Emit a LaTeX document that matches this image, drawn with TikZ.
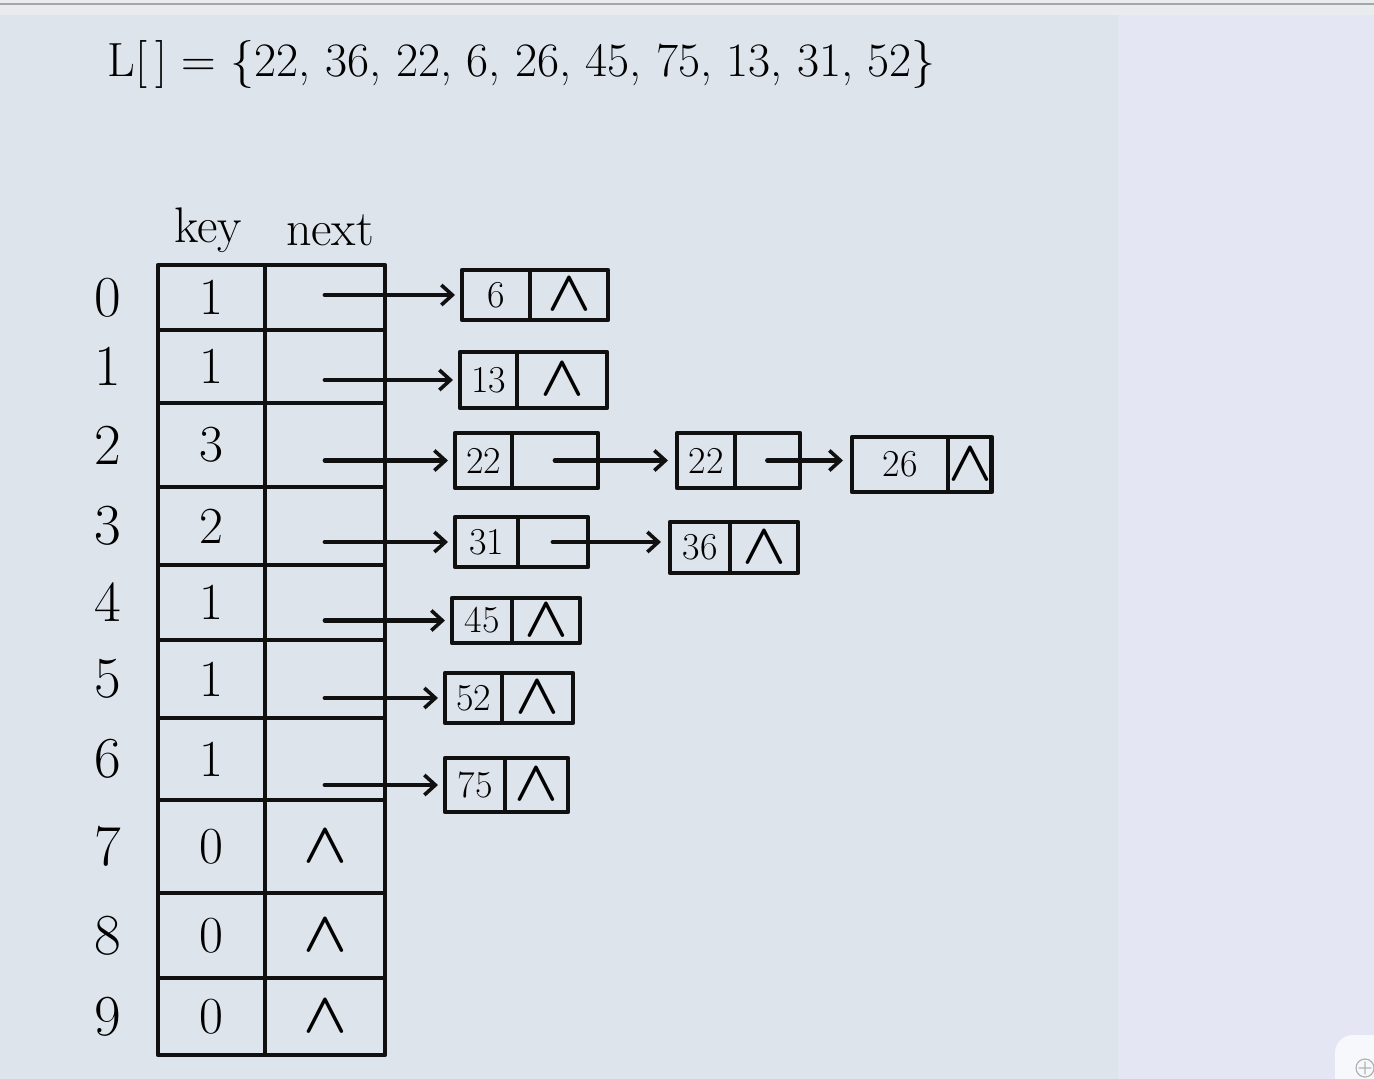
\documentclass[tikz,border=0pt]{standalone}
\usepackage{graphicx}
\usepackage{amsmath}
\usetikzlibrary{arrows.meta}
\definecolor{paper}{HTML}{DEE4EB}
\definecolor{panel}{HTML}{E4E6F4}
\definecolor{strip}{HTML}{E8ECEF}
\definecolor{ink}{HTML}{101010}
\newcommand\nul{\scalebox{2.3}{$\boldsymbol{\wedge}$}}
\newcommand\trow[6]{% idx, ytop, height, key, next, label
  \node[kcell, minimum height=#3pt, anchor=north west] (k#1) at (158,#2) {#4};
  \node[ncell, minimum height=#3pt, anchor=north west] (n#1) at (265,#2) {#5};
  \node[idx] (i#1) at (108,{#2+#3/2}) {#6};}
\newcommand\lnode[8]{% name, x, ytop, w1, w2, h, val, ptr
  \node[lcell, minimum width=#4pt, minimum height=#6pt, anchor=north west] (#1v) at (#2,#3) {#7};
  \node[lcell, minimum width=#5pt, minimum height=#6pt, anchor=west] (#1p) at (#1v.east) {#8};}
\begin{document}
\begin{tikzpicture}[x=1pt,y=-1pt, line width=4.8pt, line cap=round, line join=round, draw=ink,
  kcell/.style={draw, minimum width=107pt, inner sep=0pt, outer sep=0pt, font=\fontsize{52}{58}\selectfont},
  ncell/.style={draw, minimum width=120pt, inner sep=0pt, outer sep=0pt, font=\fontsize{52}{58}\selectfont},
  idx/.style={inner sep=0pt, font=\fontsize{58}{64}\selectfont},
  lcell/.style={draw, inner sep=0pt, outer sep=0pt, font=\fontsize{38}{44}\selectfont},
  ptr/.style={-{Straight Barb[length=11pt,width=20pt,line width=3.6pt]}}]
\useasboundingbox (0,0) rectangle (1374,1079);
\begin{scope}
\clip (0,0) rectangle (1374,1079);
\fill[paper] (0,0) rectangle (1374,1079);
\fill[panel] (1118,15) rectangle (1374,1079);
\fill[strip] (0,0) rectangle (1374,15);
\draw[line width=1.5pt, gray!70] (0,4) -- (1374,4);
\fill[white!70!panel, rounded corners=18pt] (1335,1035) rectangle (1400,1110);
\draw[line width=1.2pt, gray!60] (1365,1068) circle (9) (1359,1068) -- (1371,1068) (1365,1062) -- (1365,1074);
\end{scope}

\node[anchor=west, font=\fontsize{48}{54}\selectfont] (title) at (102,64)
  {L[\,] = \{22, 36, 22, 6, 26, 45, 75, 13, 31, 52\}};

\node[font=\fontsize{50}{56}\selectfont] (hkey) at (208,230) {key};
\node[font=\fontsize{50}{56}\selectfont] (hnext) at (330,230) {next};

\trow{0}{265}{65}{1}{}{0}
\trow{1}{330}{73}{1}{}{1}
\trow{2}{403}{84}{3}{}{2}
\trow{3}{487}{78}{2}{}{3}
\trow{4}{565}{75}{1}{}{4}
\trow{5}{640}{78}{1}{}{5}
\trow{6}{718}{82}{1}{}{6}
\trow{7}{800}{93}{0}{\nul}{7}
\trow{8}{893}{85}{0}{\nul}{8}
\trow{9}{978}{77}{0}{\nul}{9}

\lnode{a}{462}{270}{68}{78}{50}{6}{\nul}
\lnode{b}{460}{352}{57}{90}{56}{13}{\nul}
\lnode{c}{455}{433}{57}{86}{55}{22}{}
\lnode{d}{677}{433}{58}{65}{55}{22}{}
\lnode{e}{852}{437}{96}{40}{55}{26}{\nul}
\lnode{f}{455}{517}{63}{70}{50}{31}{}
\lnode{g}{670}{522}{60}{68}{51}{36}{\nul}
\lnode{h}{452}{598}{60}{68}{45}{45}{\nul}
\lnode{i}{445}{673}{57}{71}{50}{52}{\nul}
\lnode{j}{445}{758}{60}{63}{54}{75}{\nul}

\draw[ptr] (n0.center |- av.west) -- ([xshift=-7pt]av.west);
\draw[ptr] (n1.center |- bv.west) -- ([xshift=-7pt]bv.west);
\draw[ptr] (n2.center |- cv.west) -- ([xshift=-7pt]cv.west);
\draw[ptr] (n3.center |- fv.west) -- ([xshift=-7pt]fv.west);
\draw[ptr] (n4.center |- hv.west) -- ([xshift=-7pt]hv.west);
\draw[ptr] (n5.center |- iv.west) -- ([xshift=-7pt]iv.west);
\draw[ptr] (n6.center |- jv.west) -- ([xshift=-7pt]jv.west);
\draw[ptr] (cp.center) -- ([xshift=-9pt]cp.center -| dv.west);
\draw[ptr] (dp.center) -- ([xshift=-9pt]dp.center -| ev.west);
\draw[ptr] (fp.center) -- ([xshift=-9pt]fp.center -| gv.west);
\end{tikzpicture}
\end{document}
